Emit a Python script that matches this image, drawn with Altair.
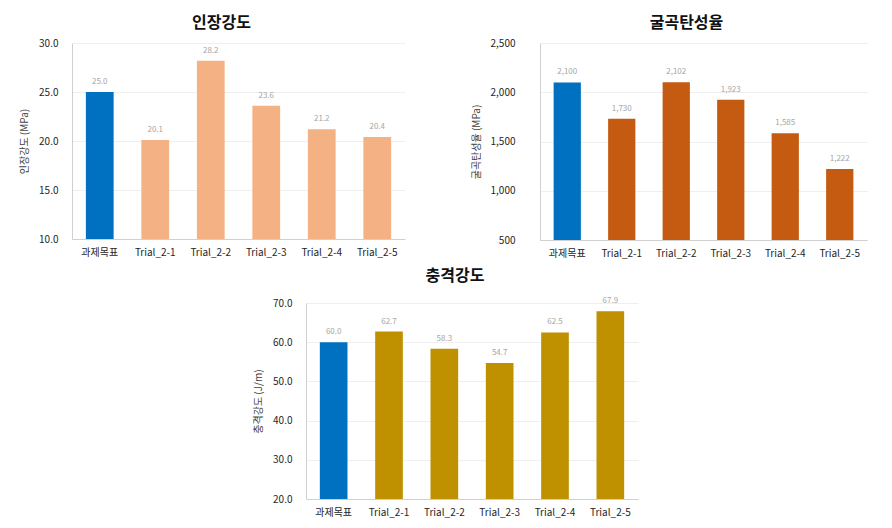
import altair as alt
import pandas as pd

categories = ["과제목표", "Trial_2-1", "Trial_2-2", "Trial_2-3", "Trial_2-4", "Trial_2-5"]
kinds = ["target", "trial", "trial", "trial", "trial", "trial"]

tensile = [25.0, 20.1, 28.2, 23.6, 21.2, 20.4]
flex = [2100, 1730, 2102, 1923, 1585, 1222]
impact = [60.0, 62.7, 58.3, 54.7, 62.5, 67.9]

tensile_ticks = [10, 15, 20, 25, 30]
flex_ticks = [500, 1000, 1500, 2000, 2500]
impact_ticks = [20, 30, 40, 50, 60, 70]

FONT = "Noto Sans CJK KR"


def panel(values, title, ytitle, ticks, fmt, color, w, h, label_pad, title_offset):
    df = pd.DataFrame({"cat": categories, "val": values, "kind": kinds})
    base = alt.Chart(df)
    x = alt.X(
        "cat:N",
        sort=categories,
        scale=alt.Scale(paddingInner=0.5, paddingOuter=0.25),
        axis=alt.Axis(
            title=None, labelAngle=0, ticks=False, labelPadding=8,
            labelFontSize=10, labelColor="#262626", labelFont=FONT,
            domainColor="#D0D0D0", grid=False,
        ),
    )
    y = alt.Y(
        "val:Q",
        scale=alt.Scale(domain=[ticks[0], ticks[-1]], zero=False, nice=False),
        axis=alt.Axis(
            title=ytitle, values=ticks, format=fmt, ticks=False,
            labelPadding=label_pad, labelFontSize=10, labelColor="#262626",
            labelFont=FONT, titleFont=FONT, titleFontSize=10,
            titleFontWeight="normal", titleColor="#404040", titlePadding=9,
            domainColor="#D0D0D0", gridColor="#EFEFEF", labelOverlap=False,
        ),
    )
    bars = base.mark_bar().encode(
        x=x,
        y=y,
        y2=alt.datum(ticks[0]),
        color=alt.Color(
            "kind:N",
            scale=alt.Scale(domain=["target", "trial"], range=["#0070C0", color]),
            legend=None,
        ),
    )
    labels = base.mark_text(
        baseline="bottom", dy=-6, fontSize=8, color="#A6A6A6", font=FONT
    ).encode(
        x=x,
        y=y,
        text=alt.Text("val:Q", format=fmt),
    )
    return alt.layer(bars, labels).properties(
        width=w,
        height=h,
        title=alt.TitleParams(
            title, font=FONT, fontSize=16, fontWeight="bold", color="#111111",
            anchor="middle", dx=-17, offset=title_offset,
        ),
    )


p1 = panel(tensile, "인장강도", "인장강도 (MPa)", tensile_ticks, ".1f", "#F4B183", 333, 196, 14, 7)
p2 = panel(flex, "굴곡탄성율", "굴곡탄성율 (MPa)", flex_ticks, ",.0f", "#C55A11", 327, 197, 25, 7)
p3 = panel(impact, "충격강도", "충격강도 (J/m)", impact_ticks, ".1f", "#BF9000", 332, 196, 14, 13)

spacer = (
    alt.Chart(pd.DataFrame({"a": [0]}))
    .mark_rule(opacity=0)
    .encode(x=alt.value(0), x2=alt.value(181), y=alt.value(0))
    .properties(width=181, height=10)
)

top = alt.hconcat(p1, p2, spacing=66).resolve_scale(color="independent", y="independent")
bottom = alt.hconcat(spacer, p3, spacing=0).resolve_scale(color="independent", y="independent")
chart = (
    alt.vconcat(top, bottom, spacing=10)
    .resolve_scale(color="independent", y="independent")
    .configure_view(stroke=None)
    .properties(padding={"left": 11, "top": 7, "right": 5, "bottom": 5})
)

chart.save("out.html", embed_options={"renderer": "svg", "actions": False})
